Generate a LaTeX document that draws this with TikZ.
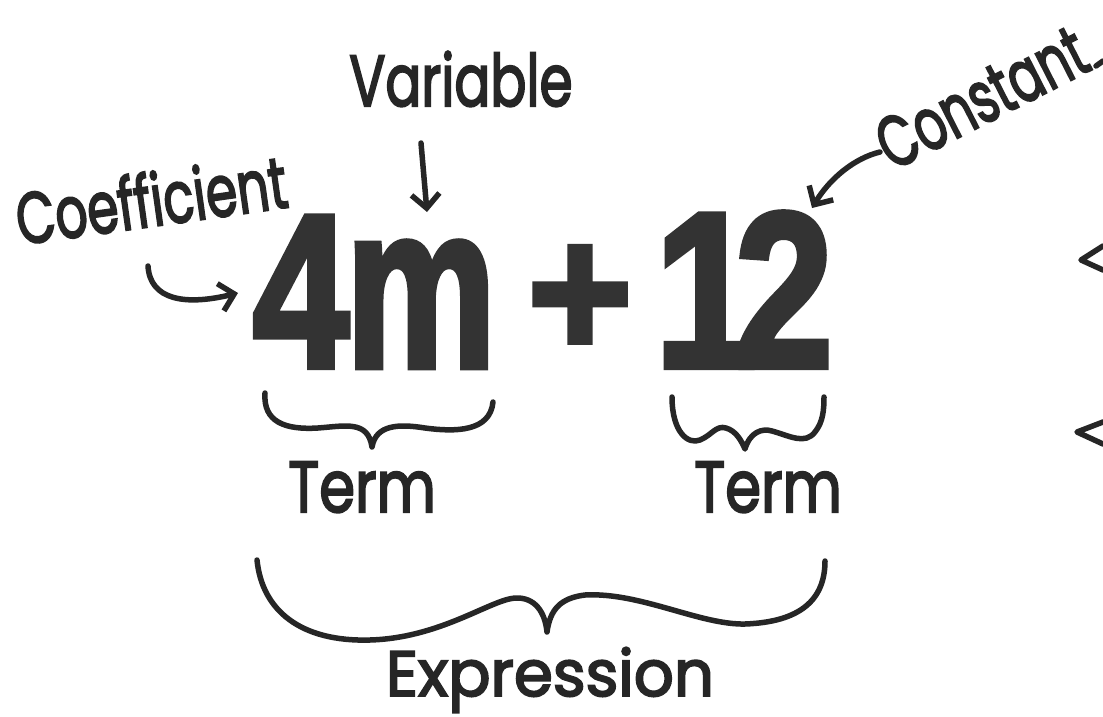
\documentclass[tikz,border=0pt]{standalone}
\usepackage{fontspec}
\usepackage{graphicx}
\usetikzlibrary{arrows.meta}
\newfontfamily\handfont{Poppins}[FakeBold=3]
\newfontfamily\glyphfont{Liberation Sans}[BoldFeatures={FakeBold=3}]
\definecolor{ink}{HTML}{262626}
\definecolor{print}{HTML}{333333}

\tikzset{
  hand/.style={font=\handfont\fontsize{72}{72}\selectfont, text=ink, inner sep=0pt, anchor=base},
  bigglyph/.style={font=\glyphfont\bfseries, text=print, inner sep=0pt, anchor=south},
  pen/.style={draw=ink, line width=5.5pt, line cap=round, line join=round},
  penarrow/.style={pen, -{Straight Barb[length=14pt,width=28pt]}},
}

\begin{document}
\begin{tikzpicture}[x=1pt,y=-1pt]
    \useasboundingbox[fill=white] (0,0) rectangle (1103,717);

    % Printed expression
    \node[bigglyph] (four) at (301,367) {\resizebox{96pt}{150pt}{4}};
    \node[bigglyph] (em) at (421,367) {\resizebox{150pt}{125pt}{m}};
    \node[bigglyph] (plus) at (580,357) {\resizebox{105pt}{110pt}{+}};
    \node[bigglyph] (one) at (706,367) {\resizebox{102pt}{152pt}{1}};
    \node[bigglyph] (two) at (784,367) {\resizebox{98pt}{154pt}{2}};

    % Handwritten labels
    \node[hand, rotate=8, xscale=0.7] (coef) at (155,226) {Coefficient};
    \node[hand, xscale=0.74] (variable) at (461,106) {Variable};
    \node[hand, rotate=27, xscale=0.68] (constant) at (993,120) {Constant};
    \node[hand, xscale=0.8] (term1) at (362,512) {Term};
    \node[hand, xscale=0.8] (term2) at (768,512) {Term};
    \node[hand, font=\handfont\fontsize{64}{64}\selectfont, xscale=0.98] (expr) at (550,696) {Expression};

    % Arrow ends
    \coordinate (coefTail) at (148,266);
    \coordinate (coefTip) at (238,293);
    \coordinate (varTail) at (421,143);
    \coordinate (varTip) at (427,212);
    \coordinate (constTail) at (880,152);
    \coordinate (constTip) at (812,208);

    % Arrows
    \draw[penarrow] (coefTail) .. controls (150,300) and (185,306) .. (coefTip);
    \draw[penarrow] (varTail) -- (varTip);
    \draw[penarrow] (constTail) .. controls (855,158) and (830,178) .. (constTip);

    % Brace under 4m
    \draw[pen] (265,393) .. controls (263,422) and (285,430) .. (318,428)
        .. controls (345,426) and (368,420) .. (372,447)
        .. controls (376,424) and (400,424) .. (425,428)
        .. controls (455,432) and (490,432) .. (493,402);

    % Brace under 12
    \draw[pen] (672,397) .. controls (672,432) and (688,445) .. (700,440)
        .. controls (712,435) and (716,425) .. (726,428)
        .. controls (736,431) and (741,440) .. (745,449)
        .. controls (750,432) and (762,428) .. (772,431)
        .. controls (790,436) and (805,445) .. (815,432)
        .. controls (823,422) and (824,410) .. (824,397);

    % Brace under whole expression
    \draw[pen] (257,560) .. controls (262,610) and (300,642) .. (370,640)
        .. controls (440,638) and (490,600) .. (515,598)
        .. controls (535,597) and (545,612) .. (547,632)
        .. controls (550,610) and (560,598) .. (585,595)
        .. controls (640,592) and (700,625) .. (745,624)
        .. controls (800,622) and (825,600) .. (825,561);

    % Marks cut off at the right edge
    \draw[pen] (1096,66) -- (1103,61);
    \draw[pen] (1103,246) -- (1081,260) -- (1103,270);
    \draw[pen] (1103,422) -- (1077,432) -- (1103,444);
\end{tikzpicture}
\end{document}
